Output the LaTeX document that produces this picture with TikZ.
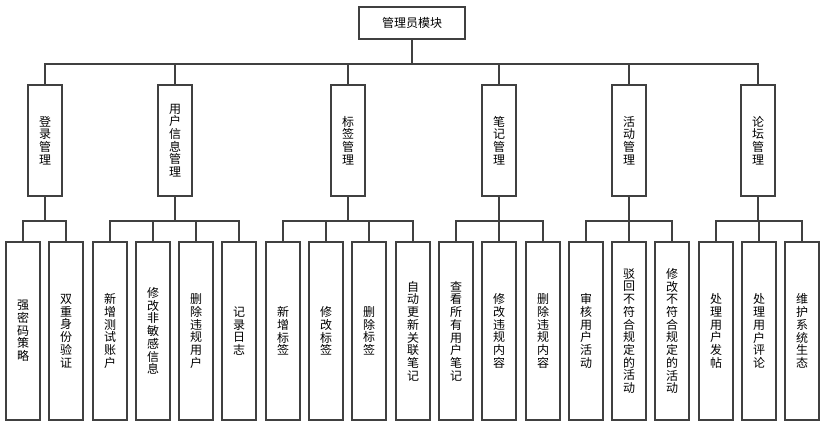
\documentclass[tikz,border=0pt]{standalone}
\usepackage{fontspec}
\setmainfont{Noto Sans CJK SC}
\begin{document}
\begin{tikzpicture}[x=1bp,y=-1bp,
  line/.style={draw=black!75, line width=2bp},
  box/.style={line, fill=white, inner sep=0pt, font=\fontsize{12bp}{12.7bp}\selectfont, align=center},
  topbox/.style={box, minimum width=106bp, minimum height=32bp},
  midbox/.style={box, minimum width=34bp, minimum height=111bp, text width=14bp},
  leafbox/.style={box, minimum width=34bp, minimum height=178bp, text width=14bp},
  conn/.style={line}]
\useasboundingbox (0,0) rectangle (825,424);
\node[topbox] (root) at (412,23) {管理员模块};
% level 1
\node[midbox] (m1) at (45,140.5) {登\\录\\管\\理};
\node[midbox] (m2) at (175,140.5) {用\\户\\信\\息\\管\\理};
\node[midbox] (m3) at (348,140.5) {标\\签\\管\\理};
\node[midbox] (m4) at (499,140.5) {笔\\记\\管\\理};
\node[midbox] (m5) at (629,140.5) {活\\动\\管\\理};
\node[midbox] (m6) at (758,140.5) {论\\坛\\管\\理};
% level 2
\node[leafbox] (l1) at (23,331) {强\\密\\码\\策\\略};
\node[leafbox] (l2) at (66,331) {双\\重\\身\\份\\验\\证};
\node[leafbox] (l3) at (110,331) {新\\增\\测\\试\\账\\户};
\node[leafbox] (l4) at (153,331) {修\\改\\非\\敏\\感\\信\\息};
\node[leafbox] (l5) at (196,331) {删\\除\\违\\规\\用\\户};
\node[leafbox] (l6) at (239,331) {记\\录\\日\\志};
\node[leafbox] (l7) at (283,331) {新\\增\\标\\签};
\node[leafbox] (l8) at (326,331) {修\\改\\标\\签};
\node[leafbox] (l9) at (369,331) {删\\除\\标\\签};
\node[leafbox] (l10) at (413,331) {自\\动\\更\\新\\关\\联\\笔\\记};
\node[leafbox] (l11) at (456,331) {查\\看\\所\\有\\用\\户\\笔\\记};
\node[leafbox] (l12) at (499,331) {修\\改\\违\\规\\内\\容};
\node[leafbox] (l13) at (543,331) {删\\除\\违\\规\\内\\容};
\node[leafbox] (l14) at (586,331) {审\\核\\用\\户\\活\\动};
\node[leafbox] (l15) at (629,331) {驳\\回\\不\\符\\合\\规\\定\\的\\活\\动};
\node[leafbox] (l16) at (672,331) {修\\改\\不\\符\\合\\规\\定\\的\\活\\动};
\node[leafbox] (l17) at (716,331) {处\\理\\用\\户\\发\\帖};
\node[leafbox] (l18) at (759,331) {处\\理\\用\\户\\评\\论};
\node[leafbox] (l19) at (802,331) {维\\护\\系\\统\\生\\态};
% root connectors
\foreach \m in {m1,m2,m3,m4,m5,m6}
  \draw[conn] (root.south) |- ++(0,24) -| (\m.north);
% group connectors
\foreach \p/\c in {m1/l1,m1/l2,m2/l3,m2/l4,m2/l5,m2/l6,m3/l7,m3/l8,m3/l9,m3/l10,m4/l11,m4/l12,m4/l13,m5/l14,m5/l15,m5/l16,m6/l17,m6/l18,m6/l19}
  \draw[conn] (\p.south) |- ++(0,24) -| (\c.north);
\end{tikzpicture}
\end{document}
